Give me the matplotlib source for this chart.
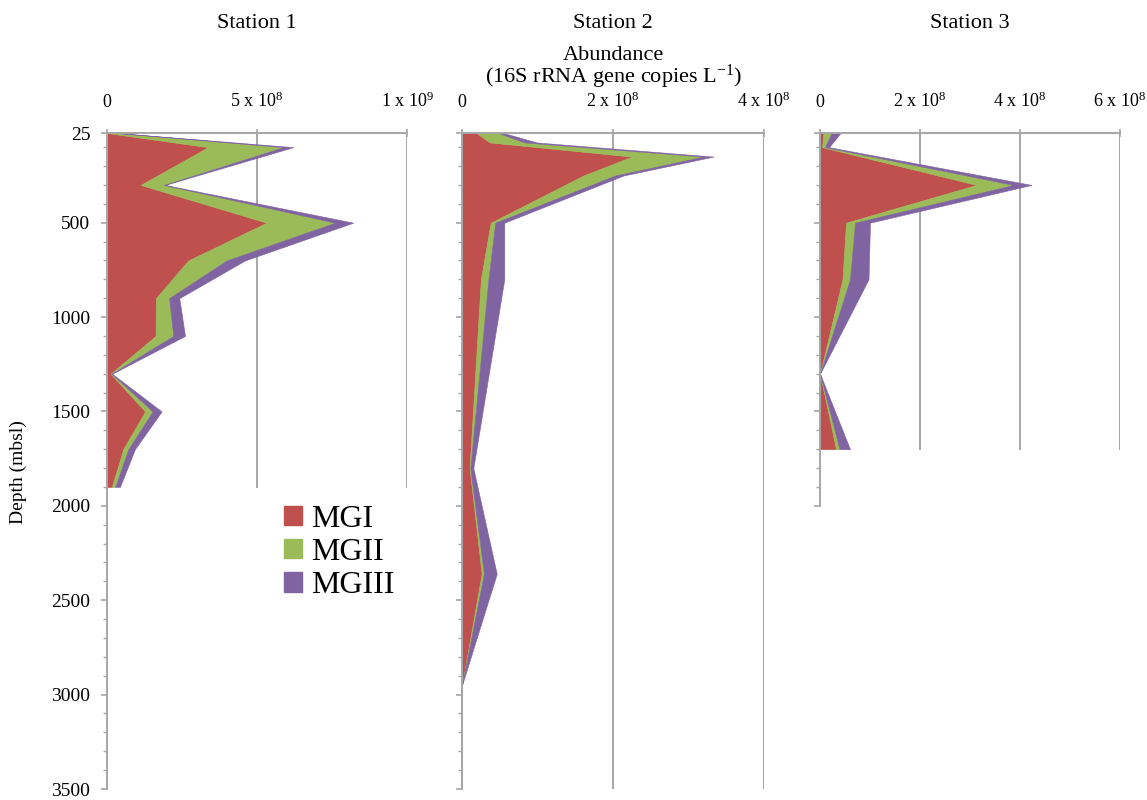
import matplotlib
matplotlib.use("Agg")
import matplotlib.pyplot as plt
from matplotlib.patches import Patch
import numpy as np

plt.rcParams['font.family'] = ['Liberation Serif', 'DejaVu Serif']
plt.rcParams['mathtext.fontset'] = 'custom'
plt.rcParams['mathtext.rm'] = 'Liberation Serif'
plt.rcParams['mathtext.it'] = 'Liberation Serif:italic'

# abundances in units of 1e8 gene copies per litre
st1_depth = [25, 100, 300, 500, 700, 900, 1100, 1300, 1500, 1700, 1900]
st1_mgi = [0.0, 3.37, 1.12, 5.32, 2.71, 1.63, 1.62, 0.12, 1.27, 0.54, 0.16]
st1_mgii = [0.33, 2.51, 0.78, 2.28, 1.28, 0.44, 0.59, 0.03, 0.25, 0.17, 0.11]
st1_mgiii = [0.02, 0.33, 0.03, 0.61, 0.61, 0.34, 0.39, 0.02, 0.30, 0.22, 0.16]

st2_depth = [25, 75, 150, 250, 500, 800, 1800, 2360, 2950, 3500]
st2_mgi = [0.19, 0.37, 2.25, 1.61, 0.38, 0.25, 0.10, 0.26, 0.0, 0.0]
st2_mgii = [0.29, 0.46, 0.95, 0.42, 0.06, 0.10, 0.01, 0.03, 0.0, 0.0]
st2_mgiii = [0.07, 0.16, 0.13, 0.11, 0.12, 0.21, 0.04, 0.17, 0.0, 0.0]

st3_depth = [25, 100, 300, 500, 800, 1300, 1700]
st3_mgi = [0.07, 0.04, 3.13, 0.52, 0.45, 0.0, 0.32]
st3_mgii = [0.16, 0.06, 0.74, 0.18, 0.15, 0.0, 0.07]
st3_mgiii = [0.18, 0.08, 0.36, 0.30, 0.37, 0.0, 0.21]

titles = ['Station 1', 'Station 2', 'Station 3']
groups = ['MGI', 'MGII', 'MGIII']
colors = ['#C0504D', '#9BBB59', '#8064A2']

xticks = [[0, 5e8, 1e9], [0, 2e8, 4e8], [0, 2e8, 4e8, 6e8]]
xticklabels = [['0', r'5 x 10$^{8}$', r'1 x 10$^{9}$'],
               ['0', r'2 x 10$^{8}$', r'4 x 10$^{8}$'],
               ['0', r'2 x 10$^{8}$', r'4 x 10$^{8}$', r'6 x 10$^{8}$']]
axis_bottom = [3500, 3500, 2000]   # where each depth axis stops
yticks = [25, 500, 1000, 1500, 2000, 2500, 3000, 3500]

stations = [(st1_depth, st1_mgi, st1_mgii, st1_mgiii),
            (st2_depth, st2_mgi, st2_mgii, st2_mgiii),
            (st3_depth, st3_mgi, st3_mgii, st3_mgiii)]

W, H = 1147, 800
fig = plt.figure(figsize=(W / 100, H / 100), dpi=100)
boxes = [(107, 300), (462, 302), (820, 300)]
top_px, bot_px = 133, 789
grey = '#A6A6A6'

for i, (depth, a, b, c) in enumerate(stations):
    x0, w = boxes[i]
    ax = fig.add_axes([x0 / W, 1 - bot_px / H, w / W, (bot_px - top_px) / H])
    depth = np.array(depth)
    s1 = np.array(a) * 1e8
    s2 = s1 + np.array(b) * 1e8
    s3 = s2 + np.array(c) * 1e8
    base = np.zeros_like(s1)
    for lo, hi, col in [(base, s1, colors[0]), (s1, s2, colors[1]), (s2, s3, colors[2])]:
        ax.fill_betweenx(depth, lo, hi, facecolor=col, edgecolor=col, linewidth=0.4)

    xmax = xticks[i][-1]
    ax.set_xlim(0, xmax)
    ax.set_ylim(3500, 25)
    # vertical gridlines only over the sampled depth range
    for xv in xticks[i][1:]:
        ax.plot([xv, xv], [25, depth.max()], color=grey, lw=1.4, zorder=0.5)

    for side in ['right', 'bottom']:
        ax.spines[side].set_visible(False)
    for side in ['top', 'left']:
        ax.spines[side].set_color(grey)
        ax.spines[side].set_linewidth(1.4)
    ax.spines['left'].set_bounds(25, axis_bottom[i])

    ax.xaxis.set_ticks_position('top')
    ax.set_xticks(xticks[i])
    ax.set_xticklabels(xticklabels[i])
    ax.tick_params(axis='x', direction='inout', length=6, width=1.2, color=grey,
                   labelsize=13, pad=13)

    yt = [t for t in yticks if t <= axis_bottom[i]]
    ax.set_yticks(yt)
    ax.set_yticks([d for d in range(100, axis_bottom[i], 100) if d % 500], minor=True)
    ax.tick_params(axis='y', which='major', direction='out', length=4, width=1.2,
                   color=grey, labelsize=14, pad=8)
    ax.tick_params(axis='y', which='minor', direction='out', length=3, width=1.0, color=grey)
    if i > 0:
        ax.set_yticklabels([])
    ax.patch.set_alpha(0)

    fig.text((x0 + w / 2) / W, 1 - 24 / H, titles[i], ha='center', va='center', fontsize=16)

fig.text((462 + 151) / W, 1 - 55 / H, 'Abundance', ha='center', va='center', fontsize=16)
fig.text((462 + 151) / W, 1 - 77 / H, r'(16S rRNA gene copies L$^{-1}$)',
         ha='center', va='center', fontsize=16)
fig.text(18 / W, 1 - 472 / H, 'Depth (mbsl)', rotation=90, ha='center', va='center', fontsize=14)

handles = [Patch(facecolor=c, edgecolor=c) for c in colors]
fig.legend(handles, groups, loc='upper left', bbox_to_anchor=(284 / W, 1 - 505 / H),
           frameon=False, fontsize=23, handlelength=0.55, handleheight=0.55,
           handletextpad=0.3, labelspacing=0.13, borderpad=0, borderaxespad=0)

fig.savefig('out.png', dpi=100)
